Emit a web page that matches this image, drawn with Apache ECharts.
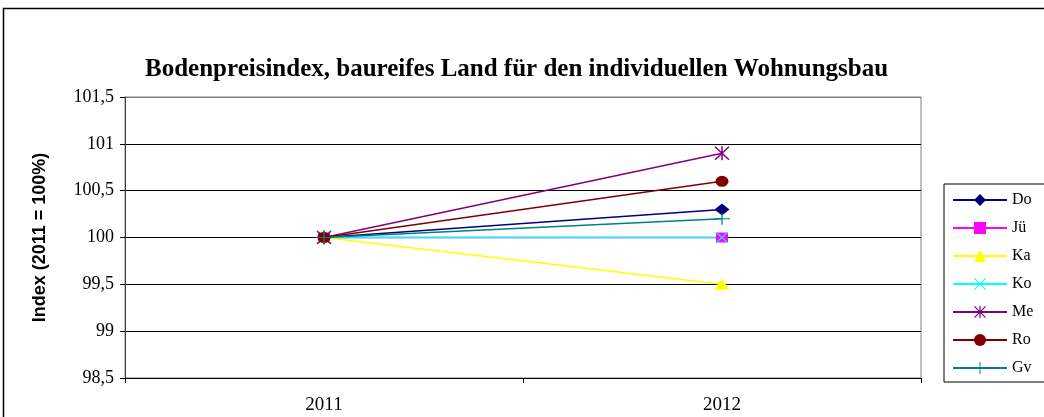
<!DOCTYPE html>
<html>
<head>
<meta charset="utf-8">
<script src="https://cdn.jsdelivr.net/npm/echarts@6/dist/echarts.min.js"></script>
<style>html,body{margin:0;padding:0;background:#fff}#c{width:1044px;height:417px}</style>
</head>
<body>
<div id="c"></div>
<script>
const years = ['2011', '2012'];
const yTicks = [98.5, 99, 99.5, 100, 100.5, 101, 101.5];
const doVals = [100, 100.3];
const jueVals = [100, 100];
const kaVals = [100, 99.5];
const koVals = [100, 100];
const meVals = [100, 100.9];
const roVals = [100, 100.6];
const gvVals = [100, 100.2];
const names = ['Do', 'Jü', 'Ka', 'Ko', 'Me', 'Ro', 'Gv'];

const plusPath = 'path://M-0.8,-10 L0.8,-10 L0.8,10 L-0.8,10 Z M-10,-0.8 L10,-0.8 L10,0.8 L-10,0.8 Z';
const xPath = 'path://M-10,-8.8 L-8.8,-10 L10,8.8 L8.8,10 Z M8.8,-10 L10,-8.8 L-8.8,10 L-10,8.8 Z';
const starPath = 'path://M-10,-8.6 L-8.6,-10 L10,8.6 L8.6,10 Z M8.6,-10 L10,-8.6 L-8.6,10 L-10,8.6 Z M-1,-10 L1,-10 L1,10 L-1,10 Z';

const styles = [
  {c: '#000080', sym: 'diamond', size: [15, 12]},
  {c: '#FF00FF', sym: 'rect', size: [12, 10]},
  {c: '#FFFF00', sym: 'triangle', size: [15, 11]},
  {c: '#00FFFF', sym: xPath, size: [13, 12]},
  {c: '#800080', sym: starPath, size: [15, 14]},
  {c: '#800000', sym: 'circle', size: [13, 11]},
  {c: '#008080', sym: plusPath, size: [16, 12]}
];
const vals = [doVals, jueVals, kaVals, koVals, meVals, roVals, gvVals];

const chart = echarts.init(document.getElementById('c'), null, {renderer: 'canvas'});
chart.setOption({
  animation: false,
  backgroundColor: '#fff',
  title: {
    text: 'Bodenpreisindex, baureifes Land für den individuellen Wohnungsbau',
    left: 140, top: 52,
    textStyle: {fontFamily: 'Liberation Serif', fontWeight: 'bold', fontSize: 25, color: '#000'}
  },
  graphic: [{
    type: 'rect', silent: true,
    shape: {x: 3.5, y: 8.5, width: 1100, height: 500},
    style: {fill: null, stroke: '#000', lineWidth: 1.5}
  }],
  legend: {
    orient: 'vertical', left: 944, top: 184,
    padding: [8, 20, 6, 8],
    itemWidth: 54, itemHeight: 15, itemGap: 12,
    borderColor: '#000', borderWidth: 1,
    textStyle: {fontFamily: 'Liberation Serif', fontSize: 16, color: '#000'},
    data: names
  },
  grid: {left: 125, right: 123, top: 97, bottom: 39, show: true, borderColor: '#808080', borderWidth: 1},
  xAxis: {
    type: 'category', data: years, boundaryGap: true,
    axisLine: {lineStyle: {color: '#000'}},
    axisTick: {show: true, length: 5, lineStyle: {color: '#000'}},
    axisLabel: {fontFamily: 'Liberation Serif', fontSize: 19, color: '#000', margin: 18}
  },
  yAxis: {
    type: 'value', min: 98.5, max: 101.5, interval: 0.5,
    name: 'Index (2011 = 100%)', nameLocation: 'middle', nameGap: 76,
    nameTextStyle: {fontFamily: 'Liberation Sans', fontWeight: 'bold', fontSize: 18, color: '#000'},
    axisLine: {show: true, lineStyle: {color: '#404040'}},
    axisTick: {show: true, length: 5, lineStyle: {color: '#000'}},
    axisLabel: {fontFamily: 'Liberation Serif', fontSize: 18, color: '#000', margin: 11,
      formatter: v => yTicks.includes(v) ? String(v).replace('.', ',') : ''},
    splitLine: {show: true, lineStyle: {color: ['#000', '#000', '#000', '#000', '#000', '#000', '#808080'], width: 1}}
  },
  series: names.map((n, i) => ({
    name: n, type: 'line', data: vals[i],
    symbol: styles[i].sym, symbolSize: styles[i].size, showAllSymbol: true,
    lineStyle: {color: styles[i].c, width: 1.5},
    itemStyle: {color: styles[i].c, borderWidth: 0},
    emphasis: {disabled: true}
  }))
});
</script>
</body>
</html>
